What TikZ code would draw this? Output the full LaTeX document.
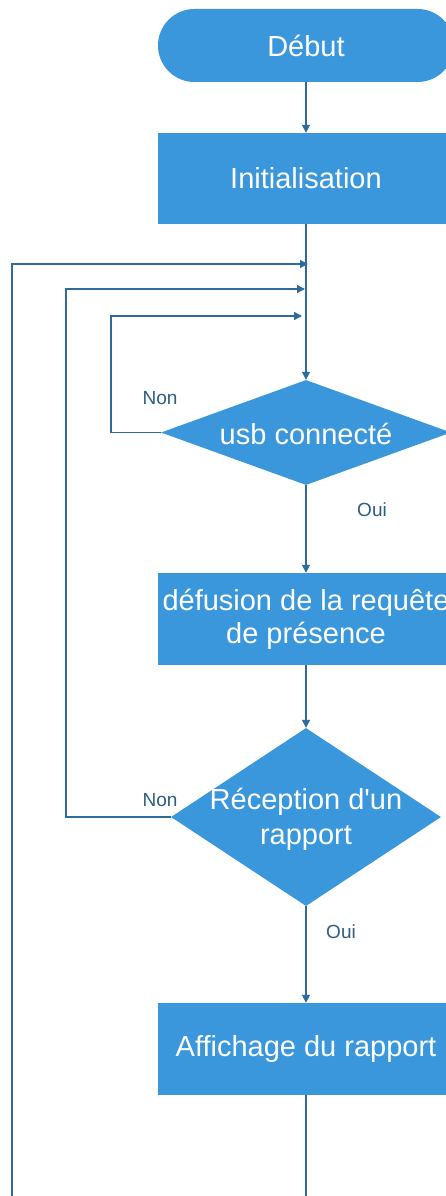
\documentclass[tikz,border=0pt]{standalone}
\usepackage{fontspec}
\setmainfont{Liberation Sans}
\usetikzlibrary{arrows.meta,shapes.geometric}
\definecolor{boxblue}{HTML}{3A97DC}
\definecolor{linkblue}{HTML}{2F6C9C}
\definecolor{labblue}{HTML}{2C5D82}

\begin{document}
\begin{tikzpicture}[x=1pt,y=-1pt,
  link/.style={draw=linkblue, line width=1.4pt},
  flow/.style={link, -{Triangle[length=8pt,width=8pt]}},
  proc/.style={fill=boxblue, minimum width=296pt, minimum height=92pt,
    inner sep=0pt, text=white, align=center,
    font=\fontsize{29}{33}\selectfont},
  term/.style={proc, minimum height=73pt, rounded corners=36.5pt},
  decision/.style={diamond, fill=boxblue, inner sep=0pt},
  dtext/.style={text=white, align=center, inner sep=0pt,
    font=\fontsize{29}{35}\selectfont},
  lab/.style={text=labblue, inner sep=0pt, font=\fontsize{19}{22}\selectfont}]

% page frame
\useasboundingbox (0,0) rectangle (446,1196);
\fill[white] (0,0) rectangle (446,1196);
\clip (0,0) rectangle (446,1196);

% steps of the flow
\node[term] (debut) at (306,45.5) {Début};
\node[proc, minimum height=91pt] (init) at (306,178.5) {Initialisation};
\node[decision, minimum width=290pt, minimum height=105pt] (usb) at (306,432.5) {};
\node[dtext] (usbt) at (306,434) {usb connecté};
\node[proc] (def) at (306,619) {défusion de la requête\\de présence};
\node[decision, minimum width=270pt, minimum height=178pt] (rec) at (306,817) {};
\node[dtext] (rect) at (306,819) {Réception d\textquotesingle un\\rapport};
\node[proc] (aff) at (306,1049) {Affichage du rapport};

% branch labels
\node[lab] (non1) at (160,398) {Non};
\node[lab] (oui1) at (372,510) {Oui};
\node[lab] (non2) at (160,800) {Non};
\node[lab] (oui2) at (341,932) {Oui};

% entry points of the loops on the main line
\coordinate (j1) at (308,264);
\coordinate (j2) at (305,289);
\coordinate (j3) at (302,316);
\coordinate (bot) at (306,1230);

% main line
\draw[flow] (debut) -- (init);
\draw[flow] (init) -- (usb);
\draw[flow] (usb) -- (def);
\draw[flow] (def) -- (rec);
\draw[flow] (rec) -- (aff);

% loops back
\draw[flow] (aff.south) -- (bot) -| (12,264) -- (j1);
\draw[flow] (rec.west) -| (66,289) -- (j2);
\draw[flow] (usb.west) -| (111,316) -- (j3);
\end{tikzpicture}
\end{document}
